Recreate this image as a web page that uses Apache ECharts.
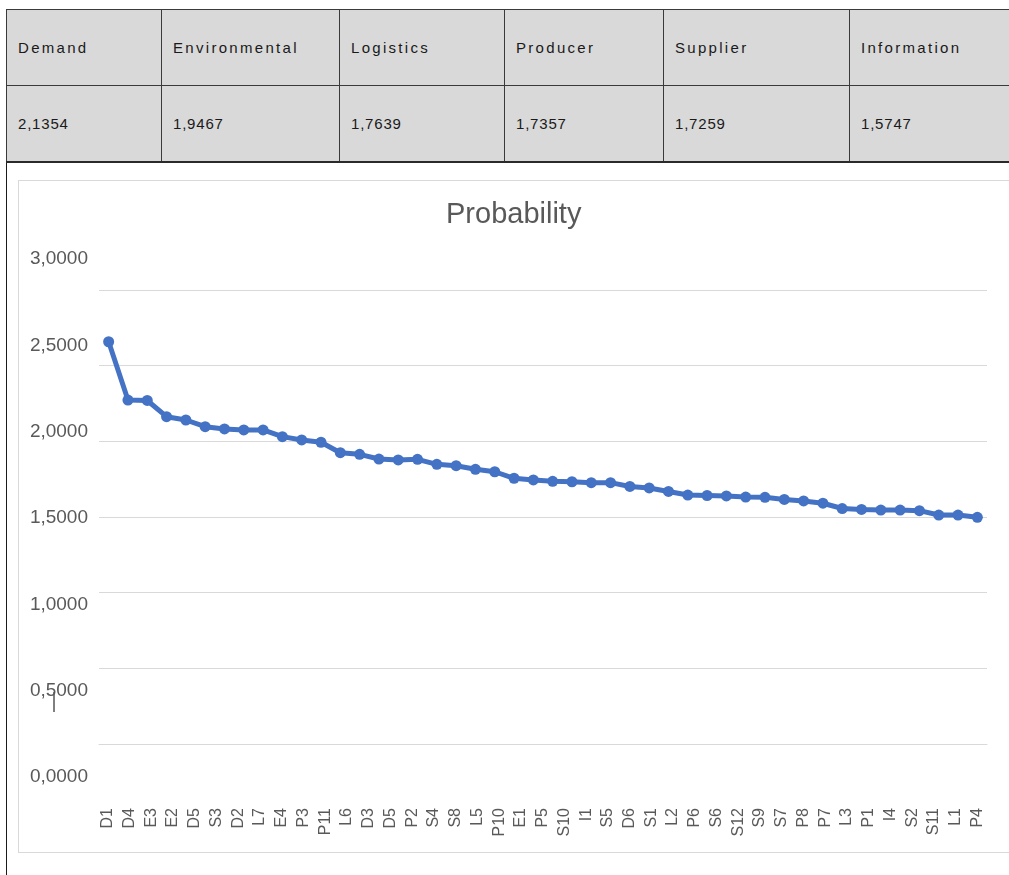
<!DOCTYPE html>
<html>
<head>
<meta charset="utf-8">
<title>Probability</title>
<script src="https://cdn.jsdelivr.net/npm/echarts@6/dist/echarts.min.js"></script>
<style>
	html, body {
		margin : 0;
		padding : 0;
		width : 1009px;
		height : 875px;
		overflow : hidden;
		background : #ffffff;
	}
	#pageLine {
		position : absolute;
		left : 6px;
		top : 9px;
		width : 0;
		height : 866px;
		border-left : 1px solid #1a1a1a;
	}
	#groupTable {
		position : absolute;
		left : 6px;
		top : 9px;
		border-collapse : collapse;
		table-layout : fixed;
		background : #d9d9d9;
		font-family : "Liberation Sans", sans-serif;
		color : #1a1a1a;
	}
	#groupTable td {
		border : 1px solid #3a3a3a;
		padding : 0 0 0 11px;
		vertical-align : middle;
		white-space : nowrap;
		overflow : hidden;
	}
	#groupTable tr.head td {
		height : 75px;
		font-size : 15px;
		letter-spacing : 2.3px;
	}
	#groupTable tr.vals td {
		height : 75px;
		font-size : 15px;
		letter-spacing : 0.8px;
		border-bottom : 2px solid #2a2a2a;
	}
	#chartBox {
		position : absolute;
		left : 18px;
		top : 180px;
		width : 1010px;
		height : 671px;
		border : 1px solid #d9d9d9;
	}
	#main {
		position : absolute;
		left : 0;
		top : 0;
		width : 1009px;
		height : 875px;
	}
</style>
</head>
<body>
<div id="pageLine"></div>
<div id="chartBox"></div>
<div id="main"></div>
<table id="groupTable"></table>
<script>
// group averages shown in the table above the chart
var groupNames = [ 'Demand', 'Environmental', 'Logistics', 'Producer', 'Supplier', 'Information' ];
var groupValues = [ 2.1354, 1.9467, 1.7639, 1.7357, 1.7259, 1.5747 ];
var colWidths = [ 155, 178, 165, 159, 186, 200 ];

// 46 points are plotted, only the first 41 labels are readable (the rest are cut off)
var categories = [ 'D1', 'D4', 'E3', 'E2', 'D5', 'S3', 'D2', 'L7', 'E4', 'P3', 'P11', 'L6', 'D3', 'D5', 'P2', 'S4', 'S8', 'L5', 'P10', 'E1', 'P5',
	'S10', 'I1', 'S5', 'D6', 'S1', 'L2', 'P6', 'S6', 'S12', 'S9', 'S7', 'P8', 'P7', 'L3', 'P1', 'I4', 'S2', 'S11', 'L1', 'P4',
	'', '', '', '', '' ];
var probability = [ 2.658, 2.273, 2.270, 2.163, 2.141, 2.097, 2.082, 2.075, 2.075, 2.031, 2.009, 1.994, 1.925, 1.914, 1.883, 1.877,
	1.881, 1.848, 1.839, 1.815, 1.799, 1.756, 1.745, 1.736, 1.733, 1.727, 1.727, 1.702, 1.692, 1.669, 1.645, 1.642, 1.639,
	1.632, 1.630, 1.616, 1.606, 1.591, 1.556, 1.550, 1.546, 1.546, 1.542, 1.513, 1.513, 1.498 ];
var yMin = 0;
var yMax = 3;
var yStep = 0.5;

function commaNum(v) {
	return v.toFixed(4).replace('.', ',');
}

var table = document.getElementById('groupTable');
var totalWidth = 0;
var colgroup = document.createElement('colgroup');
for (var k = 0; k < colWidths.length; k++) {
	var col = document.createElement('col');
	col.style.width = colWidths[k] + 'px';
	colgroup.appendChild(col);
	totalWidth += colWidths[k];
}
table.appendChild(colgroup);
table.style.width = totalWidth + 'px';
var headRow = table.insertRow();
headRow.className = 'head';
var valRow = table.insertRow();
valRow.className = 'vals';
for (var i = 0; i < groupNames.length; i++) {
	headRow.insertCell().textContent = groupNames[i];
	valRow.insertCell().textContent = commaNum(groupValues[i]);
}

var myChart = echarts.init(document.getElementById('main'));
var labelColor = '#595959';
var option = {
	animation : false,
	title : {
		text : 'Probability',
		left : 441,
		top : 195,
		textStyle : {
			fontFamily : 'Liberation Sans',
			fontSize : 29,
			fontWeight : 'normal',
			color : labelColor
		}
	},
	grid : [ {
		// plot area
		left : 99,
		top : 290,
		width : 888,
		height : 454,
		outerBoundsMode : 'none'
	}, {
		// label layer, drawn a bit larger than the plot
		left : 97,
		top : 259,
		width : 1000,
		height : 518,
		outerBoundsMode : 'none'
	} ],
	xAxis : [ {
		gridIndex : 0,
		type : 'category',
		boundaryGap : true,
		data : categories,
		axisLine : {
			show : true,
			lineStyle : {
				color : '#d9d9d9'
			}
		},
		axisTick : {
			show : false
		},
		axisLabel : {
			show : false
		}
	}, {
		gridIndex : 1,
		type : 'category',
		boundaryGap : true,
		data : categories,
		axisLine : {
			show : false
		},
		axisTick : {
			show : false
		},
		axisLabel : {
			rotate : 90,
			interval : 0,
			margin : 31,
			fontFamily : 'Liberation Sans',
			fontSize : 16,
			color : labelColor
		}
	} ],
	yAxis : [ {
		gridIndex : 0,
		type : 'value',
		min : yMin,
		max : yMax,
		interval : yStep,
		axisLine : {
			show : false
		},
		axisTick : {
			show : false
		},
		axisLabel : {
			show : false
		},
		splitLine : {
			lineStyle : {
				color : '#d9d9d9',
				width : 1
			}
		}
	}, {
		gridIndex : 1,
		type : 'value',
		min : yMin,
		max : yMax,
		interval : yStep,
		axisLine : {
			show : false
		},
		axisTick : {
			show : false
		},
		splitLine : {
			show : false
		},
		axisLabel : {
			margin : 9,
			fontFamily : 'Liberation Sans',
			fontSize : 19,
			color : labelColor,
			formatter : function(v) {
				return commaNum(v);
			}
		}
	} ],
	series : [ {
		name : 'Probability',
		type : 'line',
		xAxisIndex : 0,
		yAxisIndex : 0,
		data : probability,
		symbol : 'circle',
		symbolSize : 11,
		lineStyle : {
			color : '#4472C4',
			width : 5
		},
		itemStyle : {
			color : '#4472C4'
		}
	} ],
	graphic : [ {
		// text cursor left in the screenshot
		type : 'line',
		shape : {
			x1 : 54,
			y1 : 692,
			x2 : 54,
			y2 : 712
		},
		style : {
			stroke : '#000000',
			lineWidth : 1
		}
	} ]
};
myChart.setOption(option);
</script>
</body>
</html>
